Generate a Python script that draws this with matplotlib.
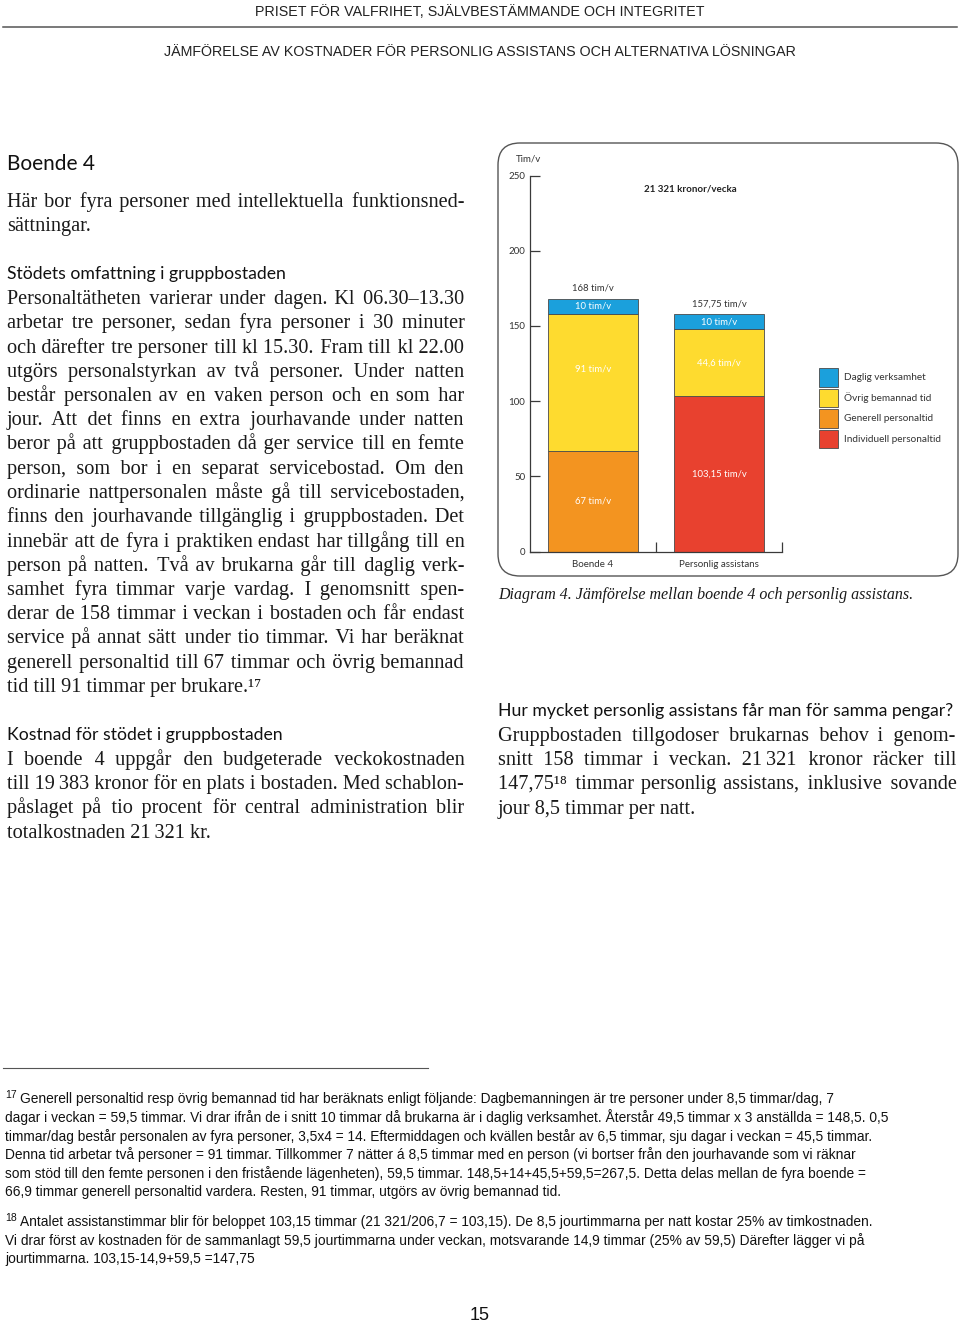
import matplotlib
matplotlib.use('Agg')
import matplotlib.pyplot as plt
from matplotlib.patches import FancyBboxPatch, Patch
import numpy as np

W, H = 960, 1322

# --- diagramdata ---
kategorier = ['Boende 4', 'Personlig assistans']
serie_namn = ['Generell personaltid', 'Individuell personaltid', 'Övrig bemannad tid', 'Daglig verksamhet']
generell = [67, 0]
individuell = [0, 103.15]
ovrig = [91, 44.6]
daglig = [10, 10]
serie_farger = ['#f39420', '#e8412f', '#fedb2f', '#1ba0dc']
y_ticks = [0, 50, 100, 150, 200, 250]
enhet = 'Tim/v'
kostnad_text = '21 321 kronor/vecka'
bildtext = 'Diagram 4. Jämförelse mellan boende 4 och personlig assistans.'

# --- sidtext ---
rubrik1 = 'PRISET FÖR VALFRIHET, SJÄLVBESTÄMMANDE OCH INTEGRITET'
rubrik2 = 'JÄMFÖRELSE AV KOSTNADER FÖR PERSONLIG ASSISTANS OCH ALTERNATIVA LÖSNINGAR'
stycke_intro = ['Här bor fyra personer med intellektuella funktionsned-',
                'sättningar.']
stycke_stod = ['Personaltätheten varierar under dagen. Kl 06.30–13.30',
               'arbetar tre personer, sedan fyra personer i 30 minuter',
               'och därefter tre personer till kl 15.30. Fram till kl 22.00',
               'utgörs personalstyrkan av två personer. Under natten',
               'består personalen av en vaken person och en som har',
               'jour. Att det finns en extra jourhavande under natten',
               'beror på att gruppbostaden då ger service till en femte',
               'person, som bor i en separat servicebostad. Om den',
               'ordinarie nattpersonalen måste gå till servicebostaden,',
               'finns den jourhavande tillgänglig i gruppbostaden. Det',
               'innebär att de fyra i praktiken endast har tillgång till en',
               'person på natten. Två av brukarna går till daglig verk-',
               'samhet fyra timmar varje vardag. I genomsnitt spen-',
               'derar de 158 timmar i veckan i bostaden och får endast',
               'service på annat sätt under tio timmar. Vi har beräknat',
               'generell personaltid till 67 timmar och övrig bemannad',
               'tid till 91 timmar per brukare.¹⁷']
stycke_kostnad = ['I boende 4 uppgår den budgeterade veckokostnaden',
                  'till 19\u2009383 kronor för en plats i bostaden. Med schablon-',
                  'påslaget på tio procent för central administration blir',
                  'totalkostnaden 21\u2009321 kr.']
stycke_hoger = ['Gruppbostaden tillgodoser brukarnas behov i genom-',
                'snitt 158 timmar i veckan. 21\u2009321 kronor räcker till',
                '147,75¹⁸ timmar personlig assistans, inklusive sovande',
                'jour 8,5 timmar per natt.']
fot17 = ['Generell personaltid resp övrig bemannad tid har beräknats enligt följande: Dagbemanningen är tre personer under 8,5 timmar/dag, 7',
         'dagar i veckan = 59,5 timmar. Vi drar ifrån de i snitt 10 timmar då brukarna är i daglig verksamhet. Återstår 49,5 timmar x 3 anställda = 148,5. 0,5',
         'timmar/dag består personalen av fyra personer, 3,5x4 = 14. Eftermiddagen och kvällen består av 6,5 timmar, sju dagar i veckan = 45,5 timmar.',
         'Denna tid arbetar två personer = 91 timmar. Tillkommer 7 nätter á 8,5 timmar med en person (vi bortser från den jourhavande som vi räknar',
         'som stöd till den femte personen i den fristående lägenheten), 59,5 timmar. 148,5+14+45,5+59,5=267,5. Detta delas mellan de fyra boende =',
         '66,9 timmar generell personaltid vardera. Resten, 91 timmar, utgörs av övrig bemannad tid.']
fot18 = ['Antalet assistanstimmar blir för beloppet 103,15 timmar (21 321/206,7 = 103,15). De 8,5 jourtimmarna per natt kostar 25% av timkostnaden.',
         'Vi drar först av kostnaden för de sammanlagt 59,5 jourtimmarna under veckan, motsvarande 14,9 timmar (25% av 59,5) Därefter lägger vi på',
         'jourtimmarna. 103,15-14,9+59,5 =147,75']

SANS = ['Lato', 'DejaVu Sans']
SERIF = ['Liberation Serif', 'DejaVu Serif']
NARROW = ['Liberation Sans Narrow', 'Liberation Sans', 'DejaVu Sans']
HS = '\u200a'  # hårfint mellanslag för utfyllnad
plt.rcParams['font.family'] = SANS

fig = plt.figure(figsize=(W / 100, H / 100), dpi=100)
page = fig.add_axes([0, 0, 1, 1])
page.set_xlim(0, W)
page.set_ylim(H, 0)
page.axis('off')
R = fig.canvas.get_renderer()


def bredd(t):
    return t.get_window_extent(R).width


def fit(x, y, s, width, size, ha='left', **kw):
    # skala teckenstorleken så att raden får rätt bredd
    t = page.text(x, y, s, fontsize=size, va='baseline', ha=ha, **kw)
    t.set_fontsize(size * width / bredd(t))
    return t


def justify(line, x0, x1, y, **kw):
    # en textrad per rad, ordmellanrummen fylls ut med hårfina mellanslag
    words = line.split(' ')
    t = page.text(x0, y, line, va='baseline', ha='left', **kw)
    nat = bredd(t)
    if nat >= x1 - x0:
        t.set_fontsize(t.get_fontsize() * (x1 - x0) / nat)
        return t
    probe = page.text(0, 0, 'x' + HS * 20 + 'x', **kw)
    w20 = bredd(probe)
    probe.set_text('xx')
    hs = (w20 - bredd(probe)) / 20
    probe.remove()
    n = len(words) - 1
    extra = (x1 - x0 - nat) / hs
    parts = [words[0]]
    done = 0
    for i in range(1, n + 1):
        k = int(round(extra * i / n)) - done
        done += k
        parts.append(' ' + HS * k + words[i])
    t.set_text(''.join(parts))
    return t


def stycke(lines, x0, x1, y0, step=24.25, **kw):
    for i, line in enumerate(lines):
        y = y0 + i * step
        if i < len(lines) - 1:
            justify(line, x0, x1, y, **kw)
        else:
            page.text(x0, y, line, va='baseline', ha='left', **kw)


body = dict(family=SERIF, fontsize=14.6, color='#1a1a1a')

# sidhuvud
t2 = fit(480, 56, rubrik2, 632, 12, ha='center', family=NARROW, color='#222')
page.text(480, 16, rubrik1, va='baseline', ha='center', family=NARROW,
          fontsize=t2.get_fontsize(), color='#222')
page.plot([3, 957], [27, 27], color='#555', lw=1.1)

# vänster spalt
fit(7, 170, 'Boende 4', 88, 15, family=SANS, color='#111')
stycke(stycke_intro, 7, 464, 207, **body)
hr = fit(498, 716, 'Hur mycket personlig assistans får man för samma pengar?', 457, 12.5,
         family=SANS, color='#111')
page.text(7, 279, 'Stödets omfattning i gruppbostaden', va='baseline', family=SANS,
          fontsize=hr.get_fontsize(), color='#111')
stycke(stycke_stod, 7, 464, 304, **body)
page.text(7, 740, 'Kostnad för stödet i gruppbostaden', va='baseline', family=SANS,
          fontsize=hr.get_fontsize(), color='#111')
stycke(stycke_kostnad, 7, 464, 765, **body)

# höger spalt
stycke(stycke_hoger, 498, 956, 741, **body)
fit(498, 599, bildtext, 415, 11, family=SERIF, style='italic', color='#1a1a1a')

# fotnoter
page.plot([3, 428], [1068, 1068], color='#555', lw=0.8)
ref = page.text(5, 1122, fot17[1], va='baseline', family=NARROW, fontsize=10, color='#111')
fs = 10 * 888 / bredd(ref)
ref.set_fontsize(fs)
page.text(5, 1098, '17', va='baseline', family=NARROW, fontsize=fs * 0.75, color='#111')
page.text(20, 1103, fot17[0], va='baseline', family=NARROW, fontsize=fs, color='#111')
for i, line in enumerate(fot17[2:]):
    page.text(5, 1140.5 + i * 18.6, line, va='baseline', family=NARROW, fontsize=fs, color='#111')
page.text(5, 1221, '18', va='baseline', family=NARROW, fontsize=fs * 0.75, color='#111')
page.text(20, 1226, fot18[0], va='baseline', family=NARROW, fontsize=fs, color='#111')
for i, line in enumerate(fot18[1:]):
    page.text(5, 1244.6 + i * 18.6, line, va='baseline', family=NARROW, fontsize=fs, color='#111')
page.text(480, 1320, '15', va='baseline', ha='center', family=NARROW, fontsize=13, color='#111')

# ram runt diagrammet
page.add_patch(FancyBboxPatch((498, 143), 460, 433, boxstyle='round,pad=0,rounding_size=22',
                              fill=False, ec='#555', lw=1.0))

# --- diagram ---
ax = fig.add_axes([530 / W, 1 - 551.5 / H, 252 / W, 376 / H])
ax.patch.set_visible(False)
x = np.array([0.5, 1.5])
bottom = np.zeros(2)
for si, (vals, col) in enumerate(zip([generell, individuell, ovrig, daglig], serie_farger)):
    v = np.array(vals, dtype=float)
    m = v > 0
    ax.bar(x[m], v[m], bottom=bottom[m], width=0.714, color=col, edgecolor='#4a4a4a', linewidth=0.6)
    for xi, b, h in zip(x[m], bottom[m], v[m]):
        # den höga gula etiketten sitter lite ovanför mitten i originalet
        yl = b + h * (0.6 if (si == 2 and h > 80) else 0.5)
        ax.text(xi, yl, f'{h:g} tim/v'.replace('.', ','), ha='center', va='center',
                fontsize=6.8, color='white')
    bottom += v
for xi, tot in zip(x, bottom):
    ax.text(xi, tot + 7, f'{tot:g} tim/v'.replace('.', ','), ha='center', va='center',
            fontsize=6.8, color='#333')

ax.set_xlim(0, 2)
ax.set_ylim(0, 250)
for s in ['top', 'right']:
    ax.spines[s].set_visible(False)
for s in ['left', 'bottom']:
    ax.spines[s].set_color('#3a3a3a')
    ax.spines[s].set_linewidth(0.9)
ax.set_yticks(y_ticks)
ax.tick_params(axis='y', direction='in', length=7, width=0.9, pad=3.5, labelsize=7,
               color='#3a3a3a', labelcolor='#333')
ax.set_xticks(x, kategorier)
ax.set_xticks([1, 2], minor=True)
ax.tick_params(axis='x', which='major', length=0, pad=6, labelsize=7, labelcolor='#333')
ax.tick_params(axis='x', which='minor', direction='in', length=7, width=0.9, color='#3a3a3a')

page.text(516, 161, enhet, va='baseline', fontsize=7, color='#333')
page.text(690, 191, kostnad_text, va='baseline', ha='center', fontsize=7, fontweight='bold', color='#222')

handles = [Patch(facecolor=c, edgecolor='#4a4a4a', linewidth=0.6, label=n)
           for n, c in zip(serie_namn, serie_farger)][::-1]
handles = [handles[0], handles[1], handles[3], handles[2]]
ax.legend(handles=handles, loc='upper left', bbox_to_anchor=(819 / W, 1 - 368 / H),
          bbox_transform=fig.transFigure, frameon=False, borderpad=0, borderaxespad=0,
          handlelength=1.85, handleheight=2.47, labelspacing=0.2, handletextpad=0.62,
          prop={'size': 7.2}, labelcolor='#333')

fig.savefig('out.png', dpi=100)
